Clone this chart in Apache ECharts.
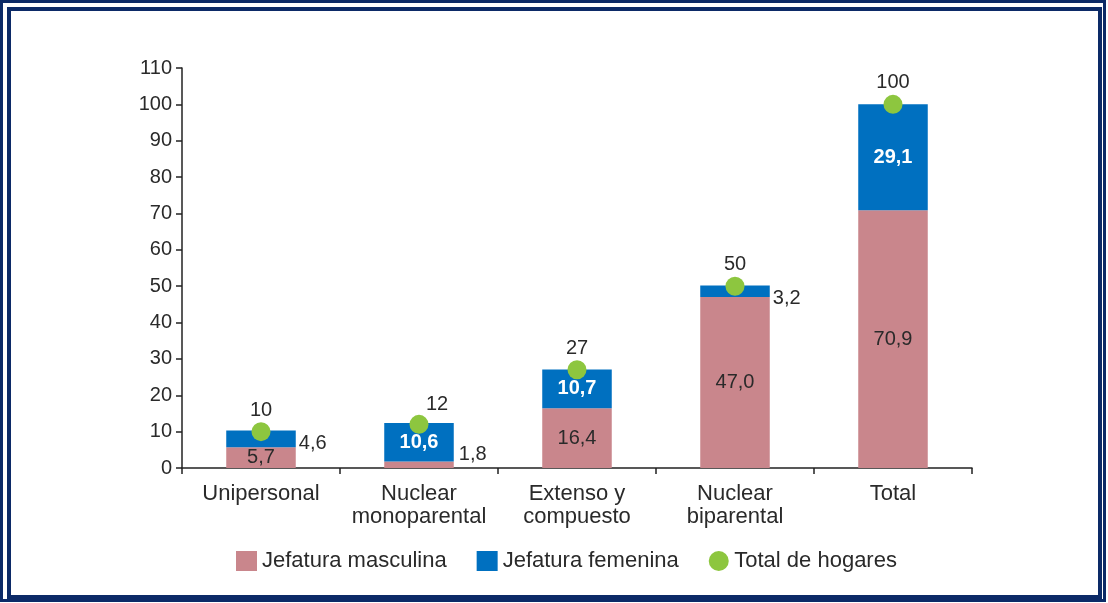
<!DOCTYPE html>
<html>
<head>
<meta charset="utf-8">
<script src="https://cdn.jsdelivr.net/npm/echarts@6/dist/echarts.min.js"></script>
<style>
html,body{margin:0;padding:0;background:#fff;}
#wrap{position:relative;width:1108px;height:603px;overflow:hidden;}
#outer{position:absolute;left:0;top:0;width:1106px;height:602px;box-sizing:border-box;border:3px solid #0c2a67;}
#inner{position:absolute;left:7px;top:7px;width:1095px;height:592px;box-sizing:border-box;border:4px solid #0c2a67;}
#chart{position:absolute;left:0;top:0;width:1108px;height:603px;}
</style>
</head>
<body>
<div id="wrap">
<div id="outer"></div>
<div id="inner"></div>
<div id="chart"></div>
</div>
<script>
const categories = ['Unipersonal', 'Nuclear\nmonoparental', 'Extenso y\ncompuesto', 'Nuclear\nbiparental', 'Total'];
const masculina = [5.7, 1.8, 16.4, 47.0, 70.9];
const femenina = [4.6, 10.6, 10.7, 3.2, 29.1];
const totalHogares = [10, 12, 27, 50, 100];
const yTicks = [0, 10, 20, 30, 40, 50, 60, 70, 80, 90, 100, 110];

const TXT = '#2a2a2a';
const FONT = 'Liberation Sans, Arial, sans-serif';
const fmt = v => v.toFixed(1).replace('.', ',');

// label placement styles per category (separate from data)
const mascLabel = [
  {position: 'inside'},
  {position: 'right', offset: [0, -10]},
  {position: 'inside'},
  {position: 'inside'},
  {position: 'inside'}
];
const femLabel = [
  {position: 'right', offset: [-2, 5], color: TXT, fontWeight: 'normal'},
  {position: 'inside', color: '#fff', fontWeight: 'bold'},
  {position: 'inside', color: '#fff', fontWeight: 'bold'},
  {position: 'right', offset: [-2, 7], color: TXT, fontWeight: 'normal'},
  {position: 'inside', color: '#fff', fontWeight: 'bold'}
];
const totLabel = [
  {offset: [0, 0]},
  {offset: [18, 2]},
  {offset: [0, 0]},
  {offset: [0, 0]},
  {offset: [0, 0]}
];

const chart = echarts.init(document.getElementById('chart'));
chart.setOption({
  animation: false,
  textStyle: {fontFamily: FONT},
  grid: {left: 182, right: 136, top: 68, bottom: 135, containLabel: false},
  legend: {
    left: 231, top: 545,
    itemWidth: 21, itemHeight: 20, itemGap: 30,
    textStyle: {fontSize: 22, color: TXT, fontFamily: FONT},
    data: [
      {name: 'Jefatura masculina', icon: 'rect'},
      {name: 'Jefatura femenina', icon: 'rect'},
      {name: 'Total de hogares', icon: 'circle'}
    ]
  },
  xAxis: {
    type: 'category',
    data: categories,
    axisLine: {lineStyle: {color: '#222', width: 1.5}},
    axisTick: {show: true, length: 6, lineStyle: {color: '#222', width: 1.5}},
    axisLabel: {color: TXT, fontSize: 22, lineHeight: 23, margin: 14, interval: 0}
  },
  yAxis: {
    type: 'value',
    min: 0, max: 110, interval: 10,
    axisLine: {show: true, lineStyle: {color: '#222', width: 1.5}},
    axisTick: {show: true, length: 6, lineStyle: {color: '#222', width: 1.5}},
    splitLine: {show: false},
    axisLabel: {color: TXT, fontSize: 20, margin: 10,
      formatter: v => yTicks.includes(v) ? String(v) : ''}
  },
  series: [
    {
      name: 'Jefatura masculina',
      type: 'bar', stack: 's', barWidth: '44%',
      itemStyle: {color: '#c9868c'},
      data: masculina.map((v, i) => ({
        value: v,
        label: Object.assign({show: true, formatter: p => fmt(p.value), color: TXT, fontSize: 20}, mascLabel[i])
      }))
    },
    {
      name: 'Jefatura femenina',
      type: 'bar', stack: 's', barWidth: '44%',
      itemStyle: {color: '#0070c0'},
      data: femenina.map((v, i) => ({
        value: v,
        label: Object.assign({show: true, formatter: p => fmt(p.value), fontSize: 20}, femLabel[i])
      }))
    },
    {
      name: 'Total de hogares',
      type: 'scatter', symbol: 'circle', symbolSize: 19, z: 5,
      itemStyle: {color: '#8dc63f', opacity: 1},
      data: totalHogares.map((v, i) => ({
        value: v,
        label: Object.assign({show: true, position: 'top', distance: 2, color: TXT, fontSize: 20, formatter: p => String(p.value)}, totLabel[i])
      }))
    }
  ]
});
</script>
</body>
</html>
